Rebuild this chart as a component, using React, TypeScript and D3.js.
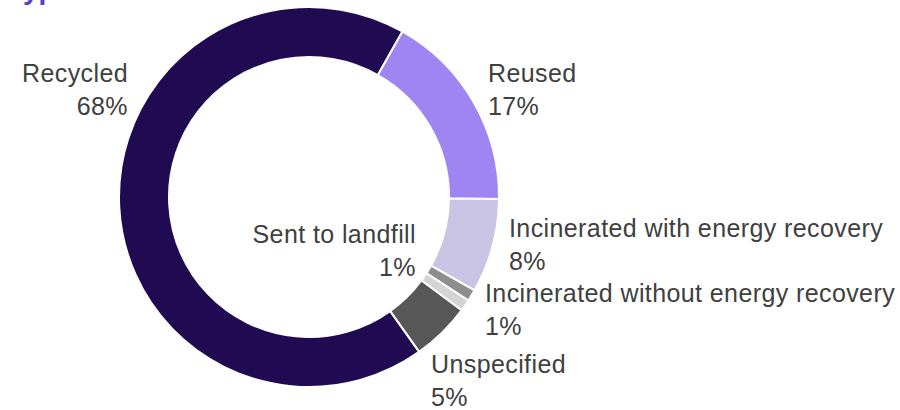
import React from "react";
import * as d3 from "d3";

const categories = [
  "Reused",
  "Incinerated with energy recovery",
  "Sent to landfill",
  "Incinerated without energy recovery",
  "Unspecified",
  "Recycled",
];
const values = [17, 8, 1, 1, 5, 68];
const valueLabels = ["17%", "8%", "1%", "1%", "5%", "68%"];
const colors = ["#9f85f1", "#c9c3e4", "#8e8e8e", "#d4d4d4", "#575757", "#200a52"];

// label layout: [x, y of first baseline, anchor]
const labelLayout: [number, number, string][] = [
  [488, 82, "start"],
  [509, 237, "start"],
  [416, 243, "end"],
  [485, 302, "start"],
  [431, 373, "start"],
  [128, 82, "end"],
];

const W = 900;
const H = 410;
const cx = 309;
const cy = 197;
const outerR = 190;
const innerR = 140;
const startDeg = 29.4;
const lineGap = 32.5;

export default function App() {
  const pie = d3
    .pie<number>()
    .sort(null)
    .value((d) => d)
    .startAngle((startDeg * Math.PI) / 180)
    .endAngle((startDeg * Math.PI) / 180 + 2 * Math.PI);
  const arcs = pie(values);
  const arc = d3.arc<d3.PieArcDatum<number>>().innerRadius(innerR).outerRadius(outerR);

  return (
    <svg
      width={W}
      height={H}
      style={{ position: "absolute", left: 0, top: 0, background: "#fff" }}
      fontFamily="'Liberation Sans', Arial, Helvetica, sans-serif"
    >
      <text x={8} y={-1} fontSize={28} fontWeight="bold" fill="#5a3fc2">
        Type of waste treatment
      </text>
      <g transform={`translate(${cx},${cy})`}>
        {arcs.map((a, i) => (
          <path key={i} d={arc(a) || ""} fill={colors[i]} stroke="#fff" strokeWidth={2} />
        ))}
      </g>
      {categories.map((c, i) => {
        const [x, y, anchor] = labelLayout[i];
        return (
          <text
            key={c}
            x={x}
            y={y}
            fontSize={25}
            letterSpacing={0.4}
            fill="#404040"
            textAnchor={anchor as any}
          >
            <tspan x={x} y={y}>{c}</tspan>
            <tspan x={x} y={y + lineGap}>{valueLabels[i]}</tspan>
          </text>
        );
      })}
    </svg>
  );
}
